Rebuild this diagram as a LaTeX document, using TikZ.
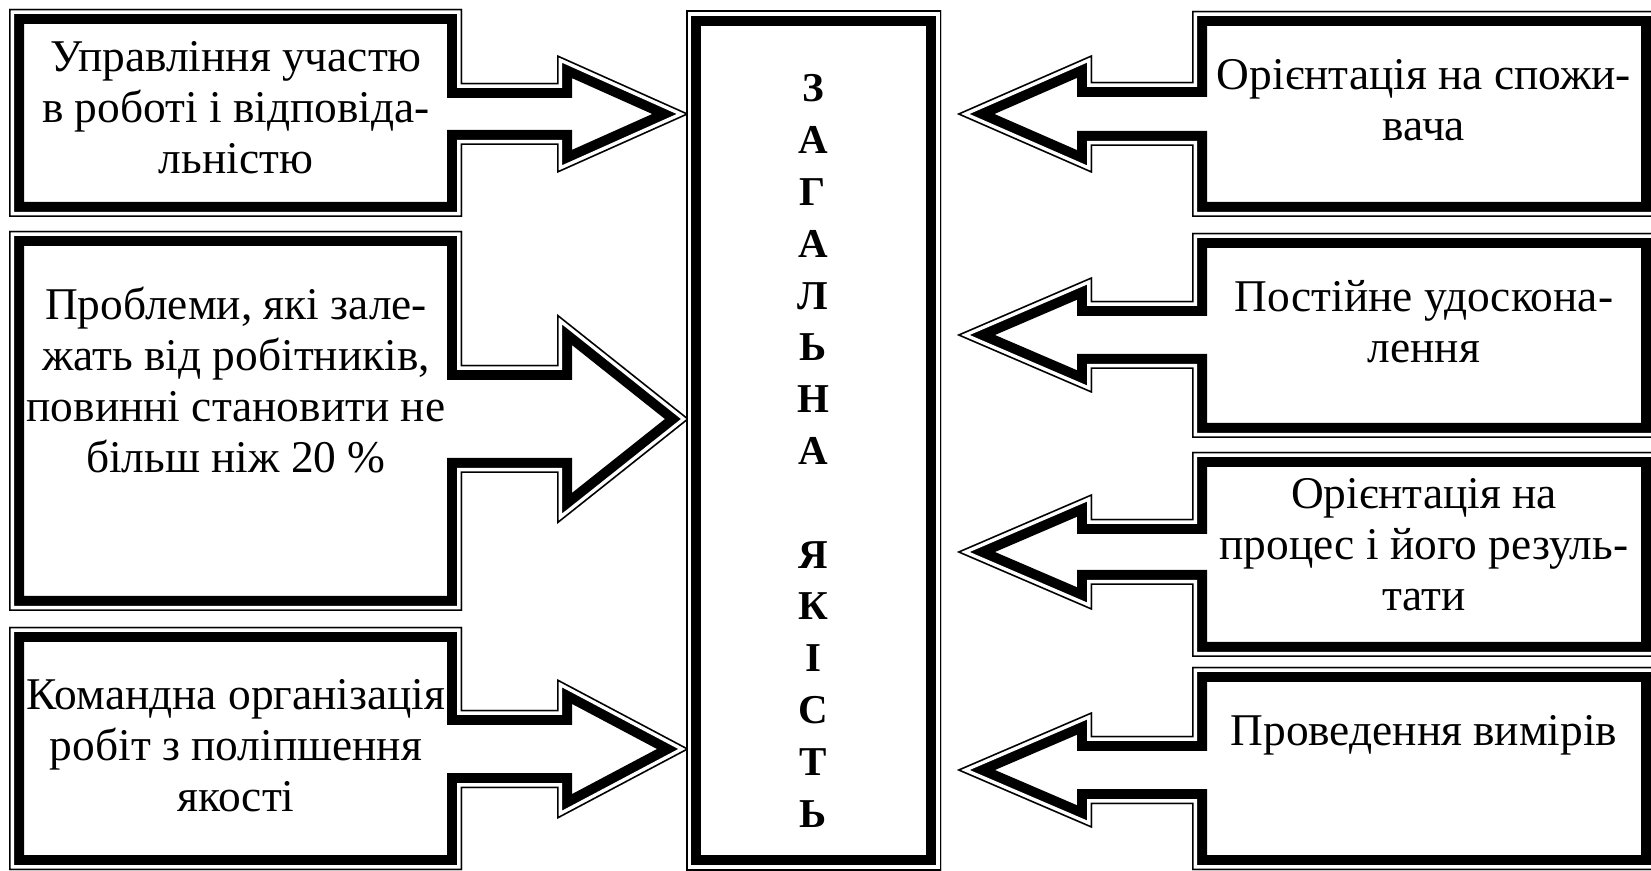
\documentclass[tikz,border=0pt]{standalone}
\usepackage{fontspec}
\setmainfont{Liberation Serif}

\tikzset{
  boxtext/.style={align=center, inner sep=0pt, font=\fontsize{22.7}{25.5}\selectfont},
  titletext/.style={align=center, inner sep=0pt, font=\bfseries\fontsize{20.5}{25.9}\selectfont}
}

% thin line, gap, thick line, all inside the outline
\newcommand{\tripleframe}[1]{%
  \begin{scope}
    \clip #1;
    \draw[line width=15pt, line join=miter] #1;
    \draw[white, line width=5pt, line join=miter] #1;
    \draw[line width=1.5pt, line join=miter] #1;
  \end{scope}}

% box on the left with its arrow: top, bottom, arrow y, shaft half, head half
\newcommand{\leftcallout}[5]{%
  \tripleframe{(9,#1) -- (462,#1) -- (462,#3-#4) -- (557,#3-#4) -- (557,#3-#5) -- (689,#3)
    -- (557,#3+#5) -- (557,#3+#4) -- (462,#3+#4) -- (462,#2) -- (9,#2) -- cycle}}

% box on the right with its arrow
\newcommand{\rightcallout}[5]{%
  \tripleframe{(1656,#1) -- (1192,#1) -- (1192,#3-#4) -- (1092,#3-#4) -- (1092,#3-#5) -- (957,#3)
    -- (1092,#3+#5) -- (1092,#3+#4) -- (1192,#3+#4) -- (1192,#2) -- (1656,#2) -- cycle}}

\begin{document}
\begin{tikzpicture}[x=0.5pt, y=-0.5pt]
      \useasboundingbox (0,0) rectangle (1651,871);

      \leftcallout{9}{217}{114}{31}{59}
      \leftcallout{231}{611}{419}{54}{105}
      \leftcallout{627}{870}{749}{39}{70}

      \tripleframe{(686,11) rectangle (941,870)}

      \rightcallout{11}{217}{114}{32}{59}
      \rightcallout{233}{438}{335}{34}{58}
      \rightcallout{452}{657}{552}{33}{58}
      \rightcallout{667}{870}{770}{34}{58}

      \node[boxtext] (upr)   at (236,108) {Управління участю\\в роботі і відповіда-\\льністю};
      \node[boxtext] (probl) at (236,380) {Проблеми, які зале-\\жать від робітників,\\повинні становити не\\більш ніж 20 \%};
      \node[boxtext] (koman) at (236,746) {Командна організація\\робіт з поліпшення\\якості};

      \node[titletext] (zag) at (813,451) {З\\А\\Г\\А\\Л\\Ь\\Н\\А\\[25.9pt]Я\\К\\І\\С\\Т\\Ь};

      \node[boxtext] (orient) at (1424,100) {Орієнтація на спожи-\\вача};
      \node[boxtext] (postiy) at (1424,322) {Постійне удоскона-\\лення};
      \node[boxtext] (proces) at (1424,545) {Орієнтація на\\процес і його резуль-\\тати};
      \node[boxtext] (vymir)  at (1424,735) {Проведення вимірів};
\end{tikzpicture}
\end{document}
